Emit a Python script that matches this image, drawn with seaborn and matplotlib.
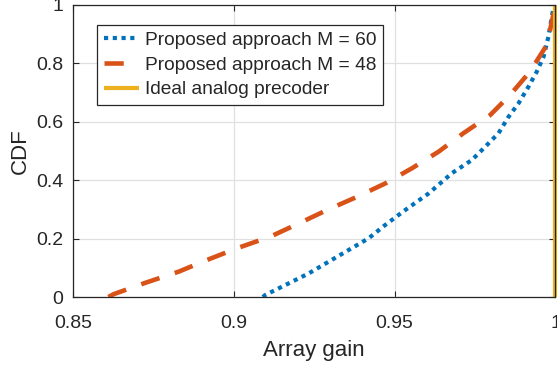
import matplotlib
matplotlib.use("Agg")
import matplotlib.pyplot as plt
import seaborn as sns

# CDF points (array gain, cumulative probability)
m60_gain = [0.909, 0.9098, 0.9171, 0.9233, 0.9295, 0.9357, 0.9419, 0.9471, 0.9533,
            0.9569, 0.9606, 0.9678, 0.974, 0.9782, 0.9823, 0.9854, 0.9885, 0.9916,
            0.9942, 0.9963, 0.9978, 0.9987, 0.9994, 1.0]
m60_cdf = [0.0, 0.007, 0.047, 0.081, 0.121, 0.161, 0.201, 0.247, 0.298,
           0.326, 0.355, 0.424, 0.469, 0.515, 0.561, 0.617, 0.663, 0.720,
           0.772, 0.823, 0.891, 0.949, 0.994, 1.0]

m48_gain = [0.861, 0.8627, 0.8726, 0.8829, 0.8917, 0.901, 0.9114, 0.9202, 0.929,
            0.9383, 0.9471, 0.9554, 0.9637, 0.9714, 0.9797, 0.9859, 0.9921, 0.9973, 1.0]
m48_cdf = [0.0, 0.010, 0.049, 0.087, 0.127, 0.167, 0.207, 0.252, 0.298,
           0.343, 0.389, 0.441, 0.498, 0.561, 0.623, 0.692, 0.772, 0.863, 1.0]

ideal_gain = [1.0, 1.0]
ideal_cdf = [0.0, 1.0]

labels = ["Proposed approach M = 60", "Proposed approach M = 48", "Ideal analog precoder"]

sns.set_style("ticks")
plt.rcParams["font.family"] = ["Liberation Sans", "DejaVu Sans"]

fig = plt.figure(figsize=(5.57, 3.66), dpi=100)
ax = fig.add_axes([0.1311, 0.1885, 0.8662, 0.798])

sns.lineplot(x=m60_gain, y=m60_cdf, ax=ax, sort=False, estimator=None,
             color="#0072BD", linewidth=3.0, label=labels[0])
sns.lineplot(x=m48_gain, y=m48_cdf, ax=ax, sort=False, estimator=None,
             color="#D95319", linewidth=3.3, label=labels[1])
sns.lineplot(x=ideal_gain, y=ideal_cdf, ax=ax, sort=False, estimator=None,
             color="#EDB120", linewidth=3.0, label=labels[2])

lines = ax.get_lines()
lines[0].set_dashes((1.0, 1.1))
lines[1].set_dashes((4.2, 3.5))
lines[2].set_clip_on(False)
for ln in lines:
    ln.set_solid_capstyle("butt")
    ln.set_dash_capstyle("butt")

ax.set_xlim(0.85, 1.0)
ax.set_ylim(0, 1)
ax.set_xticks([0.85, 0.9, 0.95, 1.0])
ax.set_xticklabels(["0.85", "0.9", "0.95", "1"])
ax.set_yticks([0, 0.2, 0.4, 0.6, 0.8, 1.0])
ax.set_yticklabels(["0", "0.2", "0.4", "0.6", "0.8", "1"])
ax.grid(True, color="#e0e0e0", linewidth=0.9)
ax.set_axisbelow(True)
ax.tick_params(direction="in", length=4, width=0.8, colors="#262626",
               labelsize=14, top=True, right=True)
ax.tick_params(axis="x", pad=13)
ax.tick_params(axis="y", pad=7)
for sp in ax.spines.values():
    sp.set_color("#262626")
    sp.set_linewidth(0.9)

ax.set_xlabel("Array gain", fontsize=16, color="#262626", labelpad=6)
ax.set_ylabel("CDF", fontsize=16, color="#262626", labelpad=4)

leg = ax.legend(loc="upper left", bbox_to_anchor=(0.0497, 0.9315), borderaxespad=0,
                fontsize=13.8, frameon=True, fancybox=False, framealpha=1,
                edgecolor="#262626", handlelength=1.85, handletextpad=0.3,
                borderpad=0.35, labelspacing=0.38)
leg.get_frame().set_linewidth(0.9)

fig.savefig("out.png", dpi=100)
